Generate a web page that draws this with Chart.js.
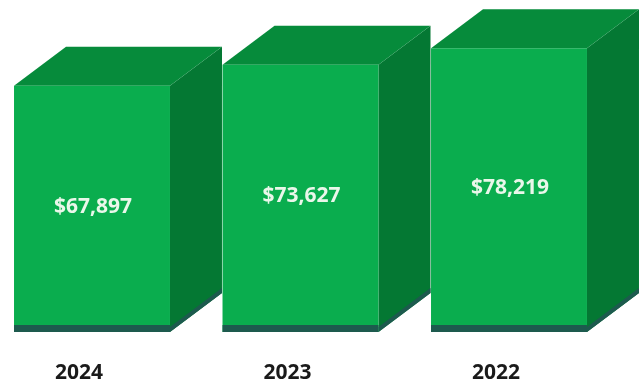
<!DOCTYPE html>
<html>
<head>
<meta charset="utf-8">
<title>Annual totals</title>
<script src="https://cdn.jsdelivr.net/npm/chart.js@4.4.1/dist/chart.umd.min.js"></script>
<style>
    html, body { margin: 0; padding: 0; background: #ffffff; }
    #wrap { width: 643px; height: 385px; }
</style>
</head>
<body>
<div id="wrap"><canvas id="chart" width="643" height="385"></canvas></div>
<script>
const years = ["2024", "2023", "2022"];
const totals = [67897, 73627, 78219];

const frontColor = "#0aad4e";
const topColor = "#068b3b";
const sideColor = "#047833";
const edgeColor = "#1d5a4e";

// depth of the fake 3d box, in pixels
const depthX = 52;
const depthY = 39;

const money = v => "$" + v.toLocaleString("en-US");

const boxPlugin = {
    id: "box3d",
    beforeDatasetsDraw(chart) {
        const ctx = chart.ctx;
        const bars = chart.getDatasetMeta(0).data;
        ctx.save();
        bars.forEach(bar => {
            const {x, y, base, width} = bar.getProps(["x", "y", "base", "width"], true);
            const left = x - width / 2;
            const right = x + width / 2;

            // side
            ctx.fillStyle = sideColor;
            ctx.beginPath();
            ctx.moveTo(right, y);
            ctx.lineTo(right + depthX, y - depthY);
            ctx.lineTo(right + depthX, base - depthY);
            ctx.lineTo(right, base);
            ctx.closePath();
            ctx.fill();

            // dark edge along the bottom of the side
            ctx.fillStyle = edgeColor;
            ctx.beginPath();
            ctx.moveTo(right, base - 5);
            ctx.lineTo(right + depthX, base - depthY - 5);
            ctx.lineTo(right + depthX, base - depthY);
            ctx.lineTo(right, base);
            ctx.closePath();
            ctx.fill();

            // top
            ctx.fillStyle = topColor;
            ctx.beginPath();
            ctx.moveTo(left, y);
            ctx.lineTo(left + depthX, y - depthY);
            ctx.lineTo(right + depthX, y - depthY);
            ctx.lineTo(right, y);
            ctx.closePath();
            ctx.fill();
        });
        ctx.restore();
    },
    afterDatasetsDraw(chart) {
        const ctx = chart.ctx;
        const bars = chart.getDatasetMeta(0).data;
        ctx.save();
        bars.forEach((bar, i) => {
            const {x, y, base, width} = bar.getProps(["x", "y", "base", "width"], true);
            // dark strip on the bottom of the front face
            ctx.fillStyle = edgeColor;
            ctx.fillRect(x - width / 2, base - 7, width, 7);

            ctx.fillStyle = "#eaf7ea";
            ctx.font = "bold 21px 'Open Sans', sans-serif";
            ctx.textAlign = "center";
            ctx.textBaseline = "middle";
            ctx.fillText(money(totals[i]), x + 1, (y + base) / 2 - 2);
        });
        ctx.restore();
    }
};

new Chart(document.getElementById("chart"), {
    type: "bar",
    data: {
        labels: years,
        datasets: [{
            data: totals,
            backgroundColor: frontColor,
            borderWidth: 0,
            categoryPercentage: 1,
            barPercentage: 0.748,
            clip: false
        }]
    },
    options: {
        responsive: false,
        animation: false,
        layout: {
            padding: {left: 92, right: 134, top: 0, bottom: 0}
        },
        plugins: {
            legend: {display: false},
            tooltip: {enabled: false}
        },
        scales: {
            x: {
                type: "category",
                offset: false,
                grid: {display: false, drawTicks: false},
                border: {display: false},
                afterFit(scale) {
                    scale.height = 53;
                },
                ticks: {
                    padding: 28,
                    labelOffset: -13,
                    color: "#1a1a1a",
                    font: {family: "'Open Sans', sans-serif", size: 21, weight: "bold"}
                }
            },
            y: {
                display: false,
                min: 0,
                max: 91500
            }
        }
    },
    plugins: [boxPlugin]
});
</script>
</body>
</html>
